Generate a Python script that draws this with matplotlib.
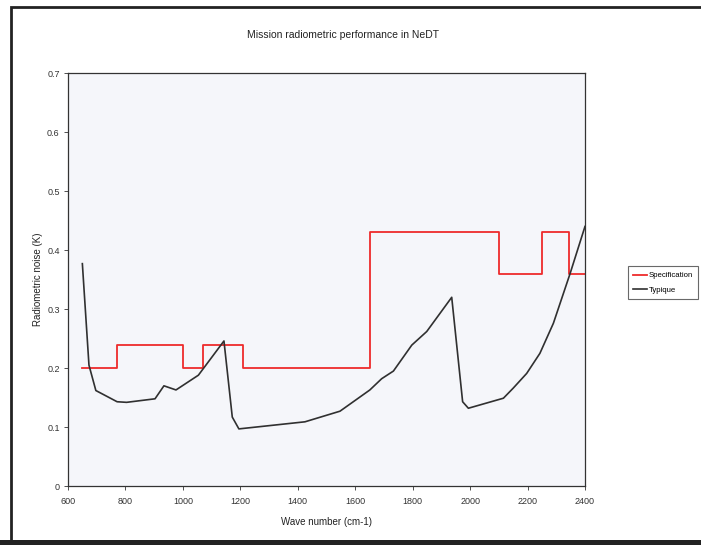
import numpy as np
import matplotlib.pyplot as plt
from matplotlib.patches import Rectangle

plt.rcParams['font.family'] = ['Liberation Sans', 'DejaVu Sans']

# specification (step levels)
spec_x = [650, 770, 770, 1000, 1000, 1070, 1070, 1210, 1210, 1650, 1650, 2100, 2100, 2250, 2250, 2345, 2345, 2400]
spec_y = [0.2, 0.2, 0.24, 0.24, 0.2, 0.2, 0.24, 0.24, 0.2, 0.2, 0.43, 0.43, 0.36, 0.36, 0.43, 0.43, 0.36, 0.36]

# typical performance
typ_x = [650, 673, 697, 771, 804, 903, 934, 976, 1054, 1143, 1172, 1195, 1425, 1547,
         1651, 1692, 1733, 1797, 1849, 1936, 1974, 1994, 2116, 2150, 2197, 2243, 2290, 2348, 2400]
typ_y = [0.377, 0.205, 0.162, 0.143, 0.142, 0.148, 0.170, 0.163, 0.188, 0.246, 0.117, 0.097, 0.109, 0.127,
         0.163, 0.182, 0.195, 0.239, 0.262, 0.320, 0.143, 0.132, 0.149, 0.166, 0.191, 0.225, 0.276, 0.360, 0.44]

fig = plt.figure(figsize=(7.01, 5.45), dpi=100)
ax = fig.add_axes([0.097, 0.108, 0.7375, 0.758])
ax.set_facecolor('#f5f6fa')

ax.plot(spec_x, spec_y, color='#ee2b2b', lw=1.3, label='Specification')
ax.plot(typ_x, typ_y, color='#303030', lw=1.2, label='Typique')

ax.set_xlim(600, 2400)
ax.set_ylim(0, 0.7)
ax.set_xticks(np.arange(600, 2401, 200))
ax.set_yticks(np.arange(0, 0.71, 0.1))
ax.set_yticklabels(['0', '0.1', '0.2', '0.3', '0.4', '0.5', '0.6', '0.7'])
ax.tick_params(labelsize=6.5, length=3, width=0.6, colors='#333333', pad=3)
ax.tick_params(axis='x', pad=5)
for s in ax.spines.values():
    s.set_color('#333333')
    s.set_linewidth(0.9)

ax.set_xlabel('Wave number (cm-1)', fontsize=7, color='#222222', labelpad=8)
ax.set_ylabel('Radiometric noise (K)', fontsize=7, color='#222222', labelpad=3)
fig.text(0.49, 0.935, 'Mission radiometric performance in NeDT', ha='center', va='center',
         fontsize=7.5, color='#222222')

leg = fig.legend(loc='center left', bbox_to_anchor=(0.893, 0.481), fontsize=5.6,
                 frameon=True, fancybox=False, handlelength=1.8, borderpad=0.7,
                 labelspacing=0.9, handletextpad=0.2, borderaxespad=0.2)
leg.get_frame().set_edgecolor('#444444')
leg.get_frame().set_linewidth(0.8)

# scanned page border
fig.add_artist(Rectangle((0.016, 0.005), 1.2, 0.983, transform=fig.transFigure,
                         fill=False, edgecolor='#222222', lw=2.0))
fig.add_artist(Rectangle((0, 0), 1, 0.009, transform=fig.transFigure,
                         color='#222222', lw=0))

fig.savefig('out.png', dpi=100)
